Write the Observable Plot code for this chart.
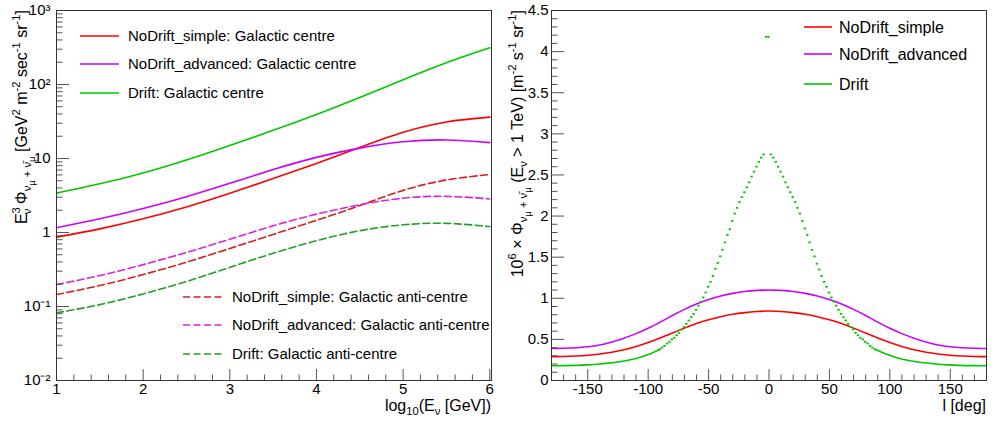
<!DOCTYPE html>
<html><head><meta charset="utf-8">
<script src="https://cdn.jsdelivr.net/npm/d3@7"></script>
<script src="https://cdn.jsdelivr.net/npm/@observablehq/plot@0.6"></script>
<style>
body{margin:0;background:#fff;}
#wrap{display:flex;width:997px;height:424px;overflow:hidden;}
</style></head><body><div id="wrap"></div>
<script>
// ---------- Left panel data: E^3 flux vs log10(E) ----------
const logE = [1, 1.5, 2, 2.5, 3, 3.5, 4, 4.5, 5, 5.5, 6];
const ndSimpleGC   = [0.865, 1.12, 1.53, 2.21, 3.38, 5.36, 8.59, 14.1, 22.6, 31.2, 36.2];
const ndAdvancedGC = [1.16, 1.53, 2.11, 3.05, 4.62, 7.08, 10.35, 13.8, 16.8, 17.8, 16.4];
const driftGC      = [3.40, 4.55, 6.38, 9.55, 15.0, 24.0, 39.4, 66.8, 116, 197, 313];
const ndSimpleAC   = [0.145, 0.192, 0.27, 0.397, 0.608, 0.942, 1.46, 2.31, 3.71, 5.12, 6.08];
const ndAdvancedAC = [0.198, 0.262, 0.368, 0.538, 0.811, 1.23, 1.77, 2.37, 2.91, 3.08, 2.84];
const driftAC      = [0.082, 0.106, 0.148, 0.218, 0.338, 0.524, 0.775, 1.057, 1.27, 1.33, 1.20];
const leftNames = ["NoDrift_simple: Galactic centre", "NoDrift_advanced: Galactic centre", "Drift: Galactic centre",
  "NoDrift_simple: Galactic anti-centre", "NoDrift_advanced: Galactic anti-centre", "Drift: Galactic anti-centre"];
const leftXTicks = [1, 2, 3, 4, 5, 6];
const leftYTicks = [0.01, 0.1, 1, 10, 100, 1000];
const leftYTickLabels = ["10\u207B\u00B2", "10\u207B\u00B9", "1", "10", "10\u00B2", "10\u00B3"];

// ---------- Right panel data: integrated flux vs longitude ----------
const lon = [-180,-170,-160,-150,-140,-130,-120,-110,-100,-90,-80,-70,-60,-50,-40,-30,-20,-10,0,
  10,20,30,40,50,60,70,80,90,100,110,120,130,140,150,160,170,180];
const ndSimpleLon = [0.29,0.292,0.298,0.308,0.323,0.343,0.373,0.413,0.462,0.517,0.577,0.637,0.692,0.738,0.776,0.806,0.826,0.839,0.845,
  0.839,0.826,0.806,0.776,0.738,0.692,0.637,0.577,0.517,0.462,0.413,0.373,0.343,0.323,0.308,0.298,0.292,0.29];
const ndAdvancedLon = [0.39,0.392,0.398,0.41,0.432,0.468,0.515,0.57,0.635,0.71,0.79,0.865,0.93,0.985,1.028,1.06,1.083,1.096,1.10,
  1.096,1.083,1.06,1.028,0.985,0.93,0.865,0.79,0.71,0.635,0.57,0.515,0.468,0.432,0.41,0.398,0.392,0.39];
const driftWingLeftLon = [-180,-170,-160,-150,-140,-130,-120,-110,-100,-90];
const driftWingLeftVal = [0.18,0.181,0.184,0.19,0.201,0.216,0.237,0.267,0.315,0.38];
const driftWingRightLon = [88,98,108,118,128,138,148,158,168,178,180];
const driftWingRightVal = [0.38,0.315,0.267,0.237,0.216,0.201,0.19,0.184,0.181,0.18,0.18];
const driftCoreLon = [-90,-88,-86,-84,-82,-80,-78,-76,-74,-72,-70,-68,-66,-64,-62,-60,-58,-56,-54,-52,-50,
  -48,-46,-44,-42,-40,-38,-36,-34,-32,-30,-28,-26,-24,-22,-20,-18,-16,-14,-12,-10,-8,-6,-4,-2,0,
  2,4,6,8,10,12,14,16,18,20,22,24,26,28,30,32,34,36,38,40,42,44,46,48,50,52,54,56,58,60,
  62,64,66,68,70,72,74,76,78,80,82,84,86,88];
const driftCoreVal = [0.38,0.40,0.42,0.45,0.47,0.50,0.52,0.55,0.58,0.62,0.65,0.69,0.73,0.77,0.81,0.86,0.91,0.96,1.01,1.07,1.14,
  1.20,1.27,1.36,1.43,1.51,1.59,1.68,1.77,1.84,1.94,2.03,2.10,2.17,2.23,2.29,2.35,2.41,2.48,2.54,2.60,2.66,2.71,2.75,4.18,4.18,
  2.75,2.71,2.66,2.60,2.54,2.48,2.41,2.35,2.29,2.23,2.17,2.10,2.03,1.94,1.85,1.77,1.68,1.59,1.51,1.42,1.35,1.27,1.20,1.14,1.07,1.01,0.96,0.91,0.86,0.81,
  0.77,0.73,0.69,0.65,0.62,0.58,0.55,0.52,0.50,0.47,0.45,0.42,0.40,0.38];
const rightNames = ["NoDrift_simple", "NoDrift_advanced", "Drift"];
const rightXTicks = [-150, -100, -50, 0, 50, 100, 150];
const rightYTicks = [0, 0.5, 1, 1.5, 2, 2.5, 3, 3.5, 4, 4.5];

// ---------- styling ----------
const FONT = '"Liberation Sans", Arial, Helvetica, sans-serif';
const RED = "#ff0000", MAG = "#cc00ff", GRN = "#00c800";
const RED_D = "#d42020", MAG_D = "#dd22dd", GRN_D = "#22a022";
const H = 424, MT = 10, MB = 44, FH = H - MT - MB;
const TICKC = "#555";
const CURVE = "natural";

function rich(sel, x, y, parts, size, anchor, rotate) {
  const t = sel.append("text").attr("font-size", size).attr("text-anchor", anchor)
    .attr("fill", "#000").attr("font-family", FONT).style("white-space", "pre");
  if (rotate) t.attr("transform", `translate(${x},${y}) rotate(-90)`);
  else t.attr("x", x).attr("y", y);
  const shifts = {"0": 0, "1": -0.42, "-1": 0.28, "-2": 0.5};
  let cur = 0;
  for (const [s, lvl, dx] of parts) {
    const off = shifts[String(lvl)] * size;
    const ts = t.append("tspan").text(s).attr("dy", off - cur)
      .attr("font-size", lvl === 0 ? size : (lvl === -2 ? size * 0.6 : size * 0.7));
    if (dx) ts.attr("dx", dx);
    cur = off;
  }
  return t;
}
function legend(sel, x1, x2, xt, y, color, dash, label, size) {
  const l = sel.append("line").attr("x1", x1).attr("x2", x2).attr("y1", y).attr("y2", y)
    .attr("stroke", color).attr("stroke-width", 1.6);
  if (dash) l.attr("stroke-dasharray", dash);
  sel.append("text").attr("x", xt).attr("y", y + size * 0.36).attr("font-size", size)
    .attr("text-anchor", "start").attr("font-family", FONT).attr("fill", "#000").text(label);
}

// ---------- Left plot ----------
const W1 = 497, ML1 = 56, MR1 = 6, FW1 = W1 - ML1 - MR1;
const leftSeries = [
  {name: leftNames[0], v: ndSimpleGC, c: RED, d: null},
  {name: leftNames[1], v: ndAdvancedGC, c: MAG, d: null},
  {name: leftNames[2], v: driftGC, c: GRN, d: null},
  {name: leftNames[3], v: ndSimpleAC, c: RED_D, d: "7,3.5"},
  {name: leftNames[4], v: ndAdvancedAC, c: MAG_D, d: "7,3.5"},
  {name: leftNames[5], v: driftAC, c: GRN_D, d: "7,3.5"}
];
const minorX1 = d3.range(1, 6.02, 0.2).filter(v => Math.abs(v - Math.round(v)) > 1e-6);
const minorY1 = [];
for (const dec of [0.01, 0.1, 1, 10, 100]) for (let k = 2; k <= 9; k++) minorY1.push(dec * k);

const left = Plot.plot({
  width: W1, height: H, marginTop: MT, marginBottom: MB, marginLeft: ML1, marginRight: MR1,
  style: {fontFamily: FONT, fontSize: "15px", background: "white", overflow: "visible", color: "#000"},
  x: {domain: [1, 6.02]},
  y: {type: "log", domain: [0.01, 1000]},
  marks: [
    ...leftSeries.map(s => Plot.line(logE.map((e, i) => ({e, v: s.v[i]})),
      {x: "e", y: "v", stroke: s.c, strokeWidth: 1.6, strokeDasharray: s.d, curve: CURVE})),
    Plot.ruleX(minorX1, {x: d => d, stroke: TICKC, insetTop: FH - 5.5}),
    Plot.ruleX(leftXTicks, {x: d => d, stroke: TICKC, insetTop: FH - 11}),
    Plot.ruleY(minorY1, {y: d => d, stroke: TICKC, insetRight: FW1 - 6.5}),
    Plot.ruleY(leftYTicks, {y: d => d, stroke: TICKC, insetRight: FW1 - 13}),
    Plot.frame({stroke: "#333"}),
    Plot.axisX(leftXTicks, {tickSize: 0, tickPadding: 3, label: null, tickFormat: d => String(d), fontSize: 15}),
    Plot.axisY(leftYTicks, {tickSize: 0, tickPadding: 6, label: null,
      tickFormat: d => leftYTickLabels[leftYTicks.indexOf(d)], fontSize: 15})
  ]
});

// ---------- Right plot ----------
const W2 = 500, ML2 = 54, MR2 = 11, FW2 = W2 - ML2 - MR2;
const minorX2 = d3.range(-170, 171, 10).filter(v => v % 50 !== 0);
const minorY2 = d3.range(0.1, 4.5, 0.1).filter(v => Math.abs(v * 2 - Math.round(v * 2)) > 1e-6);
const right = Plot.plot({
  width: W2, height: H, marginTop: MT, marginBottom: MB, marginLeft: ML2, marginRight: MR2,
  style: {fontFamily: FONT, fontSize: "15px", background: "white", overflow: "visible", color: "#000"},
  x: {domain: [-180, 180]},
  y: {domain: [0, 4.5]},
  marks: [
    Plot.line(lon.map((l, i) => ({l, v: ndSimpleLon[i]})), {x: "l", y: "v", stroke: RED, strokeWidth: 1.6, curve: CURVE}),
    Plot.line(lon.map((l, i) => ({l, v: ndAdvancedLon[i]})), {x: "l", y: "v", stroke: MAG, strokeWidth: 1.6, curve: CURVE}),
    Plot.line(driftWingLeftLon.map((l, i) => ({l, v: driftWingLeftVal[i]})), {x: "l", y: "v", stroke: GRN, strokeWidth: 1.6, curve: CURVE}),
    Plot.line(driftWingRightLon.map((l, i) => ({l, v: driftWingRightVal[i]})), {x: "l", y: "v", stroke: GRN, strokeWidth: 1.6, curve: CURVE}),
    Plot.ruleY(driftCoreLon.map((l, i) => ({l, v: driftCoreVal[i]})),
      {y: "v", x1: d => d.l - 1, x2: d => d.l + 1, stroke: GRN, strokeWidth: 1.8}),
    Plot.ruleX(minorX2, {x: d => d, stroke: TICKC, insetTop: FH - 5.5}),
    Plot.ruleX(rightXTicks, {x: d => d, stroke: TICKC, insetTop: FH - 11}),
    Plot.ruleY(minorY2, {y: d => d, stroke: TICKC, insetRight: FW2 - 6.5}),
    Plot.ruleY(rightYTicks, {y: d => d, stroke: TICKC, insetRight: FW2 - 13}),
    Plot.frame({stroke: "#333"}),
    Plot.axisX(rightXTicks, {tickSize: 0, tickPadding: 3, label: null, tickFormat: d => String(d), fontSize: 15}),
    Plot.axisY(rightYTicks, {tickSize: 0, tickPadding: 3, label: null, tickFormat: d => String(d), fontSize: 15})
  ]
});

const wrap = document.getElementById("wrap");
wrap.appendChild(left);
wrap.appendChild(right);

// ---------- titles & legends ----------
const sl = d3.select(left);
rich(sl, 27, 10, [["E",0],["3",1],["\u03BD",-1,-7],[" \u03A6",0],["\u03BD",-1],["\u03BC",-2],[" + ",-1],["\u03BD\u0304",-1],["\u03BC",-2],
  [" [GeV",0],["2",1],[" m",0],["-2",1],[" sec",0],["-1",1],[" sr",0],["-1",1],["]",0]], 16, "end", true);
rich(sl, 491, 411, [["log",0],["10",-1],["(E",0],["\u03BD",-1],[" [GeV])",0]], 16, "end", false);
legend(sl, 80, 119, 128, 36, RED, null, leftNames[0], 15);
legend(sl, 80, 119, 128, 64, MAG, null, leftNames[1], 15);
legend(sl, 80, 119, 128, 93, GRN, null, leftNames[2], 15);
legend(sl, 183, 223, 232, 297, RED_D, "7,3.5", leftNames[3], 15);
legend(sl, 183, 223, 232, 325, MAG_D, "7,3.5", leftNames[4], 15);
legend(sl, 183, 223, 232, 354, GRN_D, "7,3.5", leftNames[5], 15);

const sr = d3.select(right);
rich(sr, 26, 10, [["10",0],["6",1],[" \u00D7 \u03A6",0],["\u03BD",-1],["\u03BC",-2],[" + ",-1],["\u03BD\u0304",-1],["\u03BC",-2],
  [" (E",0],["\u03BD",-1],[" > 1 TeV) [m",0],["-2",1],[" s",0],["-1",1],[" sr",0],["-1",1],["]",0]], 16, "end", true);
rich(sr, 489, 411, [["l [deg]",0]], 16, "end", false);
legend(sr, 307, 335, 342, 27, RED, null, rightNames[0], 16);
legend(sr, 307, 335, 342, 54, MAG, null, rightNames[1], 16);
legend(sr, 307, 335, 342, 84, GRN, null, rightNames[2], 16);
</script></body></html>
